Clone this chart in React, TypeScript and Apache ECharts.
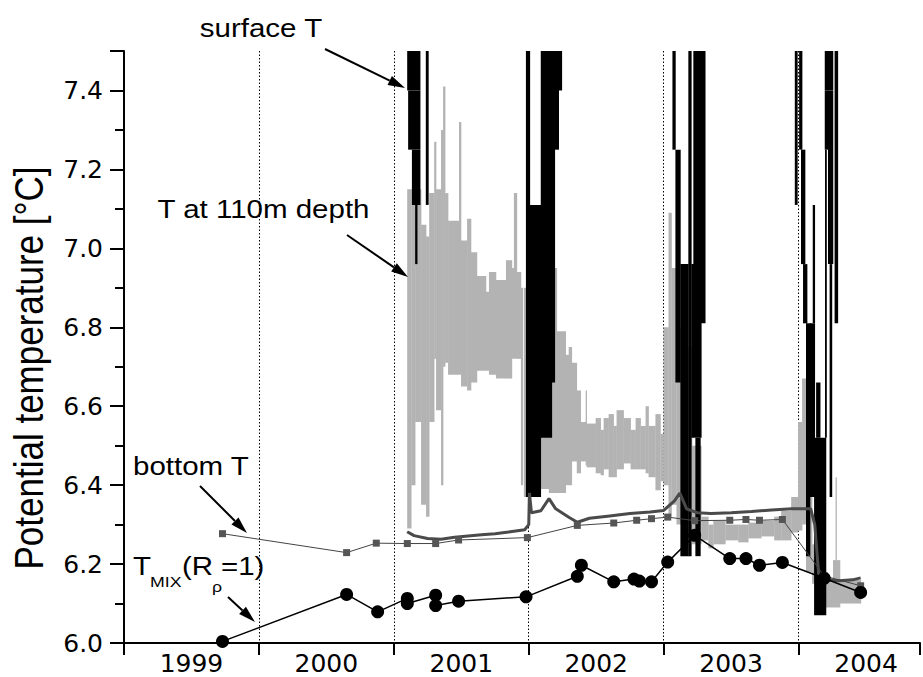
import React, { useEffect, useRef } from "react";
import * as echarts from "echarts";

// ---- data (years as decimal dates, temperatures in °C) ----
const yearLabels = ["1999", "2000", "2001", "2002", "2003", "2004"];

// T_MIX(R_rho = 1) from CTD casts
const tMix: [number, number][] = [
  [1999.73, 6.004], [2000.65, 6.123], [2000.88, 6.079], [2001.10, 6.113], [2001.10, 6.100],
  [2001.31, 6.121], [2001.31, 6.095], [2001.48, 6.106], [2001.98, 6.117], [2002.36, 6.169],
  [2002.39, 6.197], [2002.63, 6.155], [2002.78, 6.162], [2002.82, 6.157], [2002.91, 6.155],
  [2003.03, 6.205], [2003.23, 6.273], [2003.49, 6.214], [2003.61, 6.214], [2003.71, 6.197],
  [2003.88, 6.204], [2004.19, 6.164], [2004.46, 6.128],
];

// bottom T from CTD casts (squares)
const bottomCTD: [number, number][] = [
  [1999.73, 6.277], [2000.65, 6.229], [2000.87, 6.253], [2001.10, 6.252], [2001.31, 6.252],
  [2001.48, 6.261], [2001.99, 6.267], [2002.36, 6.298], [2002.63, 6.304], [2002.80, 6.311],
  [2002.91, 6.315], [2003.03, 6.319], [2003.23, 6.310], [2003.49, 6.311], [2003.61, 6.313],
  [2003.71, 6.311], [2003.88, 6.313], [2004.19, 6.170], [2004.46, 6.145],
];

// bottom T from the mooring (continuous record)
const bottomMooring: [number, number][] = [
  [2001.099, 6.282], [2001.15, 6.272], [2001.25, 6.265], [2001.35, 6.263], [2001.45, 6.268],
  [2001.55, 6.271], [2001.65, 6.274], [2001.75, 6.277], [2001.85, 6.281], [2001.97, 6.287],
  [2002.00, 6.30], [2002.005, 6.38], [2002.02, 6.33], [2002.09, 6.335], [2002.15, 6.366],
  [2002.20, 6.34], [2002.30, 6.318], [2002.36, 6.306], [2002.45, 6.316], [2002.60, 6.322],
  [2002.75, 6.328], [2002.90, 6.332], [2003.00, 6.336], [2003.08, 6.36], [2003.12, 6.38],
  [2003.17, 6.34], [2003.25, 6.33], [2003.35, 6.328], [2003.50, 6.330], [2003.65, 6.333],
  [2003.80, 6.337], [2003.95, 6.340], [2004.09, 6.340], [2004.12, 6.30], [2004.15, 6.17],
  [2004.20, 6.16], [2004.30, 6.158], [2004.40, 6.16], [2004.46, 6.165],
];

// T at 110 m depth: envelope of the high-frequency record [tStart, tEnd, low, high]
const t110m: [number, number, number, number][] = [
  [2001.099, 2001.129, 6.29, 7.15], [2001.129, 2001.158, 6.40, 7.15], [2001.158, 2001.202, 6.56, 7.15],
  [2001.202, 2001.239, 6.35, 7.06], [2001.239, 2001.262, 6.32, 7.03], [2001.262, 2001.299, 6.56, 7.14],
  [2001.299, 2001.313, 6.72, 7.27], [2001.313, 2001.350, 6.59, 7.15], [2001.350, 2001.365, 6.40, 7.30],
  [2001.365, 2001.380, 6.70, 7.41], [2001.380, 2001.402, 6.71, 7.14], [2001.402, 2001.483, 6.68, 7.07],
  [2001.483, 2001.498, 6.68, 7.32], [2001.498, 2001.543, 6.65, 7.02], [2001.543, 2001.572, 6.64, 7.075],
  [2001.572, 2001.616, 6.66, 6.99], [2001.616, 2001.683, 6.69, 6.93], [2001.683, 2001.705, 6.69, 6.89],
  [2001.705, 2001.757, 6.68, 6.94], [2001.757, 2001.831, 6.67, 6.92], [2001.831, 2001.875, 6.67, 6.97],
  [2001.875, 2001.890, 6.72, 6.95], [2001.890, 2001.912, 6.72, 7.14], [2001.912, 2001.942, 6.72, 6.94],
  [2001.942, 2001.956, 6.40, 6.90],
  [2001.964, 2002.008, 6.37, 6.90], [2002.008, 2002.089, 6.38, 6.85], [2002.089, 2002.149, 6.39, 6.90],
  [2002.149, 2002.208, 6.38, 6.95], [2002.208, 2002.274, 6.38, 6.79], [2002.274, 2002.296, 6.40, 6.73],
  [2002.296, 2002.319, 6.40, 6.75], [2002.319, 2002.356, 6.46, 6.71], [2002.356, 2002.385, 6.43, 6.64],
  [2002.385, 2002.422, 6.46, 6.56], [2002.422, 2002.429, 6.45, 6.64], [2002.429, 2002.496, 6.445, 6.556],
  [2002.496, 2002.533, 6.43, 6.57], [2002.533, 2002.555, 6.425, 6.54], [2002.555, 2002.592, 6.44, 6.57],
  [2002.592, 2002.629, 6.42, 6.58], [2002.629, 2002.651, 6.42, 6.55], [2002.651, 2002.703, 6.44, 6.59],
  [2002.703, 2002.755, 6.455, 6.57], [2002.755, 2002.792, 6.44, 6.54], [2002.792, 2002.829, 6.44, 6.57],
  [2002.829, 2002.866, 6.44, 6.55], [2002.866, 2002.888, 6.43, 6.60], [2002.888, 2002.939, 6.42, 6.55],
  [2002.939, 2002.976, 6.387, 6.58], [2002.976, 2002.999, 6.41, 6.53],
  [2002.999, 2003.036, 6.40, 6.80], [2003.036, 2003.058, 6.32, 7.09], [2003.058, 2003.095, 6.35, 6.95],
  [2003.095, 2003.140, 6.30, 6.80], [2003.140, 2003.210, 6.28, 6.75], [2003.210, 2003.279, 6.25, 6.50],
  [2003.279, 2003.331, 6.26, 6.32], [2003.331, 2003.368, 6.24, 6.30], [2003.368, 2003.457, 6.25, 6.31],
  [2003.457, 2003.553, 6.26, 6.30], [2003.553, 2003.627, 6.255, 6.30], [2003.627, 2003.723, 6.265, 6.305],
  [2003.723, 2003.819, 6.27, 6.31], [2003.819, 2003.871, 6.26, 6.32], [2003.871, 2003.945, 6.26, 6.335],
  [2003.945, 2003.996, 6.28, 6.37], [2003.996, 2004.026, 6.285, 6.56], [2004.026, 2004.055, 6.30, 6.67],
  [2004.055, 2004.100, 6.18, 6.50], [2004.100, 2004.122, 6.15, 6.25], [2004.122, 2004.255, 6.09, 6.165],
  [2004.255, 2004.307, 6.09, 6.21], [2004.274, 2004.280, 6.20, 6.42], [2004.307, 2004.462, 6.10, 6.16],
];

// surface T: parts of the record inside the axis range [tStart, tEnd, low, high]
const surfaceT: [number, number, number, number][] = [
  [2001.099, 2001.195, 7.40, 7.50], [2001.106, 2001.195, 7.25, 7.40], [2001.134, 2001.195, 7.11, 7.25],
  [2001.158, 2001.173, 6.96, 7.11], [2001.237, 2001.256, 7.11, 7.50],
  [2001.979, 2002.008, 6.37, 7.50], [2002.008, 2002.089, 6.37, 7.11], [2002.089, 2002.171, 6.52, 7.50],
  [2002.171, 2002.193, 6.66, 7.50], [2002.193, 2002.222, 7.25, 7.50], [2002.222, 2002.245, 7.40, 7.50],
  [2003.065, 2003.087, 7.25, 7.50], [2003.087, 2003.124, 6.66, 7.25], [2003.124, 2003.183, 6.22, 6.96],
  [2003.183, 2003.205, 6.22, 7.50], [2003.205, 2003.279, 6.52, 6.96], [2003.220, 2003.308, 6.81, 7.50],
  [2003.235, 2003.272, 6.22, 6.52],
  [2003.972, 2003.991, 7.11, 7.50], [2004.004, 2004.026, 7.25, 7.50], [2004.018, 2004.048, 6.96, 7.25],
  [2004.033, 2004.063, 6.81, 6.96], [2004.055, 2004.085, 6.22, 6.81], [2004.105, 2004.120, 6.81, 7.11],
  [2004.083, 2004.120, 6.37, 6.81], [2004.115, 2004.203, 6.07, 6.52], [2004.130, 2004.160, 6.52, 6.66],
  [2004.194, 2004.255, 7.40, 7.50], [2004.194, 2004.218, 7.25, 7.40], [2004.218, 2004.255, 6.96, 7.40],
  [2004.196, 2004.207, 6.52, 7.25], [2004.230, 2004.247, 6.37, 6.96], [2004.267, 2004.291, 6.81, 7.50],
];

const FONT = "DejaVu Sans";
const ARIAL = "Liberation Sans";
const STRETCH = 1.18;

function rectSeries(name: string, data: number[][], color: string, z: number) {
  return {
    name,
    type: "custom",
    xAxisIndex: 0,
    yAxisIndex: 0,
    clip: true,
    silent: true,
    z,
    encode: { x: [0, 1], y: [2, 3] },
    data,
    renderItem: (_params: any, api: any) => {
      const a = api.coord([api.value(0), api.value(3)]);
      const b = api.coord([api.value(1), api.value(2)]);
      return {
        type: "rect",
        shape: { x: a[0], y: a[1], width: Math.max(b[0] - a[0], 1) + 0.3, height: b[1] - a[1] },
        style: { fill: color },
      };
    },
  };
}

function arrow(x1: number, y1: number, x2: number, y2: number) {
  const dx = x2 - x1, dy = y2 - y1;
  const len = Math.hypot(dx, dy);
  const ux = dx / len, uy = dy / len;
  const bx = x2 - 17 * ux, by = y2 - 17 * uy;
  const px = -uy * 5, py = ux * 5;
  return [
    { type: "line", z: 100, shape: { x1, y1, x2: bx, y2: by }, style: { stroke: "#000", lineWidth: 2 } },
    {
      type: "polygon", z: 100,
      shape: { points: [[x2, y2], [bx + px, by + py], [bx - px, by - py]] },
      style: { fill: "#000" },
    },
  ];
}

function txt(text: string, x: number, y: number, size: number, align = "left") {
  return {
    type: "text", z: 100, x, y, scaleX: STRETCH,
    style: { text, fontFamily: ARIAL, fontSize: size, fill: "#000", align, verticalAlign: "middle" },
  };
}

export default function App() {
  const ref = useRef<HTMLDivElement>(null);
  useEffect(() => {
    const chart = echarts.init(ref.current!, null, { renderer: "svg" });
    const option: any = {
      animation: false,
      backgroundColor: "#fff",
      grid: { left: 124, right: 1, top: 51, bottom: 34, containLabel: false },
      xAxis: [
        {
          type: "value", position: "bottom", min: 1999, max: 2004.9, interval: 1,
          axisLine: { show: true, lineStyle: { color: "#000", width: 2 } },
          axisTick: { show: true, length: 12, lineStyle: { color: "#000", width: 2 } },
          axisLabel: { show: false },
          splitLine: { show: true, showMaxLine: false, lineStyle: { color: "#000", width: 1, type: [1.5, 2] } },
        },
        {
          type: "value", position: "bottom", min: 1999, max: 2004.9, interval: 0.5,
          axisLine: { show: false }, axisTick: { show: false }, splitLine: { show: false },
          axisLabel: {
            show: true, margin: 8, fontFamily: FONT, fontSize: 25, color: "#000",
            formatter: (v: number) => {
              const i = Math.round(v - 0.5) - 1999;
              return Math.abs(v - Math.floor(v) - 0.5) < 1e-6 && yearLabels[i] ? yearLabels[i] : "";
            },
          },
        },
      ],
      yAxis: {
        type: "value", min: 6, max: 7.5, interval: 0.2,
        axisLine: { show: true, lineStyle: { color: "#000", width: 2 } },
        axisTick: { show: true, length: 14, lineStyle: { color: "#000", width: 2 } },
        minorTick: { show: true, splitNumber: 2, length: 9, lineStyle: { color: "#000", width: 2 } },
        axisLabel: {
          margin: 21, fontFamily: FONT, fontSize: 25, color: "#000", showMaxLabel: false,
          formatter: (v: number) => v.toFixed(1),
        },
        splitLine: { show: false },
      },
      series: [
        rectSeries("T at 110m depth", t110m, "#b3b3b3", 1),
        rectSeries("surface T", surfaceT, "#000", 2),
        {
          name: "bottom T (mooring)", type: "line", data: bottomMooring, z: 3,
          showSymbol: false, symbol: "none", clip: true,
          lineStyle: { color: "#4a4a4a", width: 3 },
        },
        {
          name: "bottom T", type: "line", data: bottomCTD, z: 4, clip: true,
          symbol: "rect", symbolSize: 7,
          itemStyle: { color: "#555" },
          lineStyle: { color: "#444", width: 1 },
        },
        {
          name: "T_MIX", type: "line", data: tMix, z: 5, clip: true,
          symbol: "circle", symbolSize: 13,
          itemStyle: { color: "#000" },
          lineStyle: { color: "#000", width: 1.5 },
        },
      ],
      graphic: [
        {
          type: "text", z: 100, x: 28, y: 368, rotation: Math.PI / 2, scaleY: STRETCH,
          style: {
            text: "Potential temperature [°C]", fontFamily: ARIAL, fontSize: 35, fill: "#000",
            align: "center", verticalAlign: "middle",
          },
        },
        txt("surface T", 261, 28.5, 25, "center"),
        ...arrow(325, 49, 405, 88),
        txt("T at 110m depth", 263.5, 209, 25, "center"),
        ...arrow(347, 235, 408, 277),
        txt("bottom T", 133, 466, 25),
        ...arrow(200, 486, 247, 533),
        txt("T", 133, 566, 25),
        txt("MIX", 150, 582, 15),
        txt("(R", 182, 566, 25),
        txt("ρ", 212, 587, 15),
        txt("=1)", 221, 566, 25),
        ...arrow(228, 597, 255, 622),
      ],
    };
    chart.setOption(option);
    return () => chart.dispose();
  }, []);
  return (
    <div
      ref={ref}
      style={{ position: "fixed", left: 0, top: 0, width: 923, height: 677, background: "#fff" }}
    />
  );
}
